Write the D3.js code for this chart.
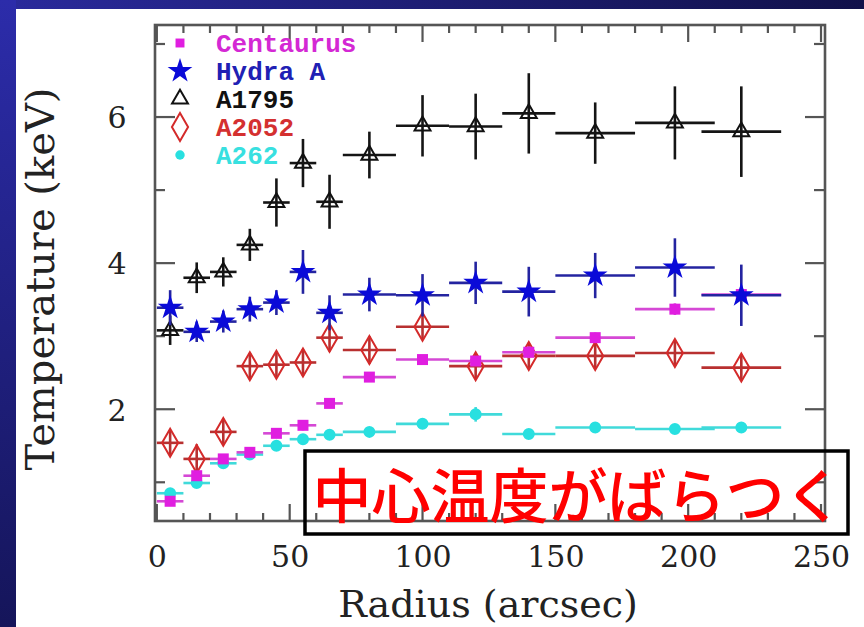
<!DOCTYPE html>
<html>
<head>
<meta charset="utf-8">
<script src="https://cdn.jsdelivr.net/npm/d3@7/dist/d3.min.js"></script>
<style>
  html, body { margin: 0; padding: 0; background: #ffffff; }
  svg { display: block; }
</style>
</head>
<body>
<svg id="chart" width="864" height="627"></svg>
<script>
// Radial temperature profiles of five clusters.
const radius    = [5, 15, 25, 35, 45, 55, 65, 80, 100, 120, 140, 165, 195, 220];
const radiusErr = [5, 5, 5, 5, 5, 5, 5, 10, 10, 10, 10, 15, 15, 15];

const centaurusT   = [0.74, 1.09, 1.32, 1.41, 1.67, 1.78, 2.08, 2.44, 2.68, 2.66, 2.78, 2.98, 3.37, 3.57];
const centaurusErr = [0.05, 0.06, 0.06, 0.06, 0.06, 0.07, 0.06, 0.05, 0.06, 0.06, 0.08, 0.07, 0.08, 0.08];

const hydraT   = [3.39, 3.06, 3.20, 3.37, 3.46, 3.88, 3.32, 3.57, 3.56, 3.73, 3.61, 3.83, 3.94, 3.56];
const hydraErr = [0.24, 0.14, 0.15, 0.17, 0.17, 0.30, 0.24, 0.23, 0.29, 0.29, 0.34, 0.31, 0.40, 0.42];

const a1795T   = [3.08, 3.80, 3.88, 4.25, 4.83, 5.37, 4.84, 5.48, 5.88, 5.87, 6.05, 5.78, 5.92, 5.80];
const a1795Err = [0.20, 0.21, 0.20, 0.22, 0.33, 0.33, 0.37, 0.32, 0.42, 0.45, 0.55, 0.42, 0.50, 0.62];

const a2052T   = [1.54, 1.32, 1.69, 2.59, 2.61, 2.64, 2.98, 2.81, 3.13, 2.59, 2.73, 2.73, 2.77, 2.57];
const a2052Err = [0.17, 0.20, 0.18, 0.18, 0.18, 0.18, 0.19, 0.19, 0.17, 0.18, 0.18, 0.18, 0.18, 0.18];

const a262T   = [0.85, 0.99, 1.26, 1.38, 1.50, 1.59, 1.65, 1.69, 1.80, 1.93, 1.66, 1.75, 1.73, 1.75];
const a262Err = [0.05, 0.04, 0.04, 0.04, 0.05, 0.05, 0.05, 0.04, 0.05, 0.10, 0.04, 0.03, 0.03, 0.03];

const seriesNames = ["Centaurus", "Hydra A", "A1795", "A2052", "A262"];
const xTickValues = [0, 50, 100, 150, 200, 250];
const yTickValues = [2, 4, 6];
const xMinorValues = d3.range(0, 251, 10);
const yMinorValues = [1, 3, 5, 7];
const xTitle = "Radius (arcsec)";
const yTitle = "Temperature (keV)";
const note = "中心温度がばらつく";

// Series table built from the arrays above.
const series = [
  { name: seriesNames[0], t: centaurusT, e: centaurusErr, symbol: d3.symbolSquare,   size: 121, fill: "#e01ee0", stroke: "none",    bar: "#d548d5", text: "#d428d4" },
  { name: seriesNames[1], t: hydraT,     e: hydraErr,     symbol: d3.symbolStar,     size: 190, fill: "#0a0ad8", stroke: "none",    bar: "#2424a0", text: "#2020b4" },
  { name: seriesNames[2], t: a1795T,     e: a1795Err,     symbol: d3.symbolTriangle, size: 110, fill: "none",    stroke: "#111111", bar: "#151515", text: "#111111" },
  { name: seriesNames[3], t: a2052T,     e: a2052Err,     symbol: d3.symbolDiamond,  size: 226, fill: "none",    stroke: "#d42a2a", bar: "#b83030", text: "#d43030" },
  { name: seriesNames[4], t: a262T,      e: a262Err,      symbol: d3.symbolCircle,   size: 113, fill: "#28e0e0", stroke: "none",    bar: "#40dada", text: "#38e0e0" }
];
const drawOrder = [4, 3, 0, 2, 1];

const svg = d3.select("#chart");
const W = 864, H = 627;

// Page background with the dark frame bands.
const defs = svg.append("defs");
const gTop = defs.append("linearGradient").attr("id", "bandTop").attr("x1", 0).attr("x2", 1).attr("y1", 0).attr("y2", 0);
gTop.append("stop").attr("offset", 0).attr("stop-color", "#2a2a9c");
gTop.append("stop").attr("offset", 1).attr("stop-color", "#11114a");
const gLeft = defs.append("linearGradient").attr("id", "bandLeft").attr("x1", 0).attr("x2", 0).attr("y1", 0).attr("y2", 1);
gLeft.append("stop").attr("offset", 0).attr("stop-color", "#2c2caa");
gLeft.append("stop").attr("offset", 1).attr("stop-color", "#15155a");

svg.append("rect").attr("width", W).attr("height", H).attr("fill", "#ffffff");
svg.append("rect").attr("x", 0).attr("y", 0).attr("width", W).attr("height", 9).attr("fill", "url(#bandTop)");
svg.append("rect").attr("x", 0).attr("y", 0).attr("width", 16).attr("height", H).attr("fill", "url(#bandLeft)");

// Scales
const plot = { left: 155, right: 825, top: 25, bottom: 521 };
const x = d3.scaleLinear().domain([-0.7, 251.5]).range([plot.left, plot.right]);
const y = d3.scaleLinear().domain([0.47, 7.26]).range([plot.bottom, plot.top]);

const axisColor = "#555555";

// Tick marks on all four sides
const ticks = svg.append("g").attr("stroke", axisColor).attr("stroke-width", 2.2);
xMinorValues.forEach(v => {
  const len = (v % 50 === 0) ? 17 : 8;
  ticks.append("line").attr("x1", x(v)).attr("x2", x(v)).attr("y1", plot.bottom).attr("y2", plot.bottom - len);
  ticks.append("line").attr("x1", x(v)).attr("x2", x(v)).attr("y1", plot.top).attr("y2", plot.top + len);
});
yTickValues.forEach(v => {
  ticks.append("line").attr("x1", plot.left).attr("x2", plot.left + 20).attr("y1", y(v)).attr("y2", y(v));
  ticks.append("line").attr("x1", plot.right).attr("x2", plot.right - 20).attr("y1", y(v)).attr("y2", y(v));
});
yMinorValues.forEach(v => {
  ticks.append("line").attr("x1", plot.left).attr("x2", plot.left + 10).attr("y1", y(v)).attr("y2", y(v));
  ticks.append("line").attr("x1", plot.right).attr("x2", plot.right - 11).attr("y1", y(v)).attr("y2", y(v));
});

// Frame
svg.append("rect")
  .attr("x", plot.left).attr("y", plot.top)
  .attr("width", plot.right - plot.left).attr("height", plot.bottom - plot.top)
  .attr("fill", "none").attr("stroke", axisColor).attr("stroke-width", 2.6);

// Tick labels via d3 axes (lines hidden, text kept)
const tickFont = "'DejaVu Serif', serif";
const xAxis = svg.append("g").attr("transform", `translate(0,${plot.bottom})`)
  .call(d3.axisBottom(x).tickValues(xTickValues).tickSize(0).tickPadding(0).tickFormat(d3.format("d")));
xAxis.select(".domain").remove();
xAxis.selectAll("text")
  .attr("y", 46).attr("dy", null)
  .attr("font-family", tickFont).attr("font-size", 30).attr("fill", "#222");

const yAxis = svg.append("g").attr("transform", `translate(${plot.left},0)`)
  .call(d3.axisLeft(y).tickValues(yTickValues).tickSize(0).tickPadding(0).tickFormat(d3.format("d")));
yAxis.select(".domain").remove();
yAxis.selectAll("text")
  .attr("x", -38).attr("dy", "0.36em").attr("text-anchor", "middle")
  .attr("font-family", tickFont).attr("font-size", 30).attr("fill", "#222");

// Axis titles
svg.append("text")
  .attr("x", 488).attr("y", 617).attr("text-anchor", "middle")
  .attr("font-family", tickFont).attr("font-size", 38).attr("fill", "#222")
  .text(xTitle);
svg.append("text")
  .attr("transform", "translate(54,279) rotate(-90)").attr("text-anchor", "middle")
  .attr("font-family", tickFont).attr("font-size", 40).attr("fill", "#222")
  .text(yTitle);

// Error bars and markers
const marks = svg.append("g");
drawOrder.forEach(si => {
  const s = series[si];
  const g = marks.append("g");
  radius.forEach((r, i) => {
    const t = s.t[i], e = s.e[i], xe = radiusErr[i];
    g.append("line").attr("x1", x(r - xe)).attr("x2", x(r + xe)).attr("y1", y(t)).attr("y2", y(t))
      .attr("stroke", s.bar).attr("stroke-width", 2.6);
    g.append("line").attr("x1", x(r)).attr("x2", x(r)).attr("y1", y(t - e)).attr("y2", y(t + e))
      .attr("stroke", s.bar).attr("stroke-width", 2.6);
    g.append("path")
      .attr("d", d3.symbol().type(s.symbol).size(s.size)())
      .attr("transform", `translate(${x(r)},${y(t)})`)
      .attr("fill", s.fill).attr("stroke", s.stroke).attr("stroke-width", 2);
  });
});

// Legend
const legend = svg.append("g");
series.forEach((s, i) => {
  const ly = 43 + i * 28;
  legend.append("path")
    .attr("d", d3.symbol().type(s.symbol).size(s.symbol === d3.symbolSquare ? 80 : s.symbol === d3.symbolCircle ? 70 : s.size)())
    .attr("transform", `translate(180,${ly})`)
    .attr("fill", s.fill).attr("stroke", s.stroke).attr("stroke-width", 2);
  legend.append("text")
    .attr("x", 216).attr("y", ly).attr("dy", "0.36em")
    .attr("font-family", "'Liberation Mono', 'DejaVu Sans Mono', monospace")
    .attr("font-weight", "bold").attr("font-size", 26).attr("fill", s.text)
    .text(s.name);
});

// Annotation box
svg.append("rect")
  .attr("x", 305).attr("y", 451).attr("width", 543).attr("height", 83)
  .attr("fill", "none").attr("stroke", "#000").attr("stroke-width", 3.5);
svg.append("text")
  .attr("x", 578).attr("y", 497).attr("dy", "0.35em").attr("text-anchor", "middle")
  .attr("font-family", "'Noto Sans CJK JP', sans-serif").attr("font-weight", 500)
  .attr("font-size", 59).attr("fill", "#ff0000")
  .text(note);
</script>
</body>
</html>
